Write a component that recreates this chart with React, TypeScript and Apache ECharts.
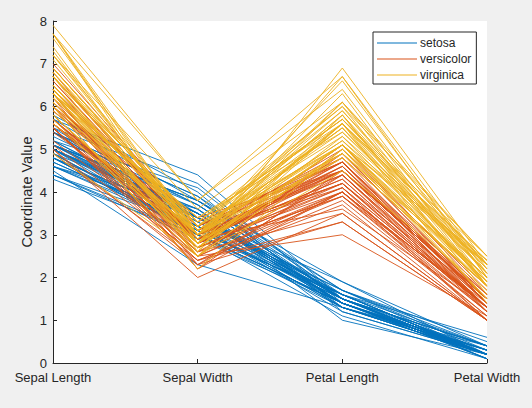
import React, { useEffect, useRef } from "react";
import * as echarts from "echarts";

const coordinates = ["Sepal Length", "Sepal Width", "Petal Length", "Petal Width"];
const speciesNames = ["setosa", "versicolor", "virginica"];
const speciesColors = ["#0072BD", "#D95319", "#EDB120"];
const yTicks = [0, 1, 2, 3, 4, 5, 6, 7, 8];

const setosa: number[][] = [
  [5.1, 3.5, 1.4, 0.2], [4.9, 3.0, 1.4, 0.2], [4.7, 3.2, 1.3, 0.2], [4.6, 3.1, 1.5, 0.2],
  [5.0, 3.6, 1.4, 0.2], [5.4, 3.9, 1.7, 0.4], [4.6, 3.4, 1.4, 0.3], [5.0, 3.4, 1.5, 0.2],
  [4.4, 2.9, 1.4, 0.2], [4.9, 3.1, 1.5, 0.1], [5.4, 3.7, 1.5, 0.2], [4.8, 3.4, 1.6, 0.2],
  [4.8, 3.0, 1.4, 0.1], [4.3, 3.0, 1.1, 0.1], [5.8, 4.0, 1.2, 0.2], [5.7, 4.4, 1.5, 0.4],
  [5.4, 3.9, 1.3, 0.4], [5.1, 3.5, 1.4, 0.3], [5.7, 3.8, 1.7, 0.3], [5.1, 3.8, 1.5, 0.3],
  [5.4, 3.4, 1.7, 0.2], [5.1, 3.7, 1.5, 0.4], [4.6, 3.6, 1.0, 0.2], [5.1, 3.3, 1.7, 0.5],
  [4.8, 3.4, 1.9, 0.2], [5.0, 3.0, 1.6, 0.2], [5.0, 3.4, 1.6, 0.4], [5.2, 3.5, 1.5, 0.2],
  [5.2, 3.4, 1.4, 0.2], [4.7, 3.2, 1.6, 0.2], [4.8, 3.1, 1.6, 0.2], [5.4, 3.4, 1.5, 0.4],
  [5.2, 4.1, 1.5, 0.1], [5.5, 4.2, 1.4, 0.2], [4.9, 3.1, 1.5, 0.2], [5.0, 3.2, 1.2, 0.2],
  [5.5, 3.5, 1.3, 0.2], [4.9, 3.6, 1.4, 0.1], [4.4, 3.0, 1.3, 0.2], [5.1, 3.4, 1.5, 0.2],
  [5.0, 3.5, 1.3, 0.3], [4.5, 2.3, 1.3, 0.3], [4.4, 3.2, 1.3, 0.2], [5.0, 3.5, 1.6, 0.6],
  [5.1, 3.8, 1.9, 0.4], [4.8, 3.0, 1.4, 0.3], [5.1, 3.8, 1.6, 0.2], [4.6, 3.2, 1.4, 0.2],
  [5.3, 3.7, 1.5, 0.2], [5.0, 3.3, 1.4, 0.2],
];

const versicolor: number[][] = [
  [7.0, 3.2, 4.7, 1.4], [6.4, 3.2, 4.5, 1.5], [6.9, 3.1, 4.9, 1.5], [5.5, 2.3, 4.0, 1.3],
  [6.5, 2.8, 4.6, 1.5], [5.7, 2.8, 4.5, 1.3], [6.3, 3.3, 4.7, 1.6], [4.9, 2.4, 3.3, 1.0],
  [6.6, 2.9, 4.6, 1.3], [5.2, 2.7, 3.9, 1.4], [5.0, 2.0, 3.5, 1.0], [5.9, 3.0, 4.2, 1.5],
  [6.0, 2.2, 4.0, 1.0], [6.1, 2.9, 4.7, 1.4], [5.6, 2.9, 3.6, 1.3], [6.7, 3.1, 4.4, 1.4],
  [5.6, 3.0, 4.5, 1.5], [5.8, 2.7, 4.1, 1.0], [6.2, 2.2, 4.5, 1.5], [5.6, 2.5, 3.9, 1.1],
  [5.9, 3.2, 4.8, 1.8], [6.1, 2.8, 4.0, 1.3], [6.3, 2.5, 4.9, 1.5], [6.1, 2.8, 4.7, 1.2],
  [6.4, 2.9, 4.3, 1.3], [6.6, 3.0, 4.4, 1.4], [6.8, 2.8, 4.8, 1.4], [6.7, 3.0, 5.0, 1.7],
  [6.0, 2.9, 4.5, 1.5], [5.7, 2.6, 3.5, 1.0], [5.5, 2.4, 3.8, 1.1], [5.5, 2.4, 3.7, 1.0],
  [5.8, 2.7, 3.9, 1.2], [6.0, 2.7, 5.1, 1.6], [5.4, 3.0, 4.5, 1.5], [6.0, 3.4, 4.5, 1.6],
  [6.7, 3.1, 4.7, 1.5], [6.3, 2.3, 4.4, 1.3], [5.6, 3.0, 4.1, 1.3], [5.5, 2.5, 4.0, 1.3],
  [5.5, 2.6, 4.4, 1.2], [6.1, 3.0, 4.6, 1.4], [5.8, 2.6, 4.0, 1.2], [5.0, 2.3, 3.3, 1.0],
  [5.6, 2.7, 4.2, 1.3], [5.7, 3.0, 4.2, 1.2], [5.7, 2.9, 4.2, 1.3], [6.2, 2.9, 4.3, 1.3],
  [5.1, 2.5, 3.0, 1.1], [5.7, 2.8, 4.1, 1.3],
];

const virginica: number[][] = [
  [6.3, 3.3, 6.0, 2.5], [5.8, 2.7, 5.1, 1.9], [7.1, 3.0, 5.9, 2.1], [6.3, 2.9, 5.6, 1.8],
  [6.5, 3.0, 5.8, 2.2], [7.6, 3.0, 6.6, 2.1], [4.9, 2.5, 4.5, 1.7], [7.3, 2.9, 6.3, 1.8],
  [6.7, 2.5, 5.8, 1.8], [7.2, 3.6, 6.1, 2.5], [6.5, 3.2, 5.1, 2.0], [6.4, 2.7, 5.3, 1.9],
  [6.8, 3.0, 5.5, 2.1], [5.7, 2.5, 5.0, 2.0], [5.8, 2.8, 5.1, 2.4], [6.4, 3.2, 5.3, 2.3],
  [6.5, 3.0, 5.5, 1.8], [7.7, 3.8, 6.7, 2.2], [7.7, 2.6, 6.9, 2.3], [6.0, 2.2, 5.0, 1.5],
  [6.9, 3.2, 5.7, 2.3], [5.6, 2.8, 4.9, 2.0], [7.7, 2.8, 6.7, 2.0], [6.3, 2.7, 4.9, 1.8],
  [6.7, 3.3, 5.7, 2.1], [7.2, 3.2, 6.0, 1.8], [6.2, 2.8, 4.8, 1.8], [6.1, 3.0, 4.9, 1.8],
  [6.4, 2.8, 5.6, 2.1], [7.2, 3.0, 5.8, 1.6], [7.4, 2.8, 6.1, 1.9], [7.9, 3.8, 6.4, 2.0],
  [6.4, 2.8, 5.6, 2.2], [6.3, 2.8, 5.1, 1.5], [6.1, 2.6, 5.6, 1.4], [7.7, 3.0, 6.1, 2.3],
  [6.3, 3.4, 5.6, 2.4], [6.4, 3.1, 5.5, 1.8], [6.0, 3.0, 4.8, 1.8], [6.9, 3.1, 5.4, 2.1],
  [6.7, 3.1, 5.6, 2.4], [6.9, 3.1, 5.1, 2.3], [5.8, 2.7, 5.1, 1.9], [6.8, 3.2, 5.9, 2.3],
  [6.7, 3.3, 5.7, 2.5], [6.7, 3.0, 5.2, 2.3], [6.3, 2.5, 5.0, 1.9], [6.5, 3.0, 5.2, 2.0],
  [6.2, 3.4, 5.4, 2.3], [5.9, 3.0, 5.1, 1.8],
];

const groups = [setosa, versicolor, virginica];

const FONT = "'Liberation Sans', Arial, Helvetica, sans-serif";
const INK = "#262626";

export default function App() {
  const ref = useRef<HTMLDivElement>(null);

  useEffect(() => {
    if (!ref.current) return;
    const chart = echarts.init(ref.current, undefined, { renderer: "svg" });

    const series: any[] = [];
    groups.forEach((rows, gi) => {
      rows.forEach((row) => {
        series.push({
          type: "line",
          name: speciesNames[gi],
          data: row,
          symbol: "none",
          showSymbol: false,
          silent: true,
          lineStyle: { color: speciesColors[gi], width: 0.9 },
          itemStyle: { color: speciesColors[gi] },
          emphasis: { disabled: true },
        });
      });
    });

    chart.setOption({
      animation: false,
      backgroundColor: "#f0f0f0",
      textStyle: { fontFamily: FONT },
      grid: {
        left: 53,
        top: 21,
        width: 434,
        height: 342,
        show: true,
        backgroundColor: "#ffffff",
        borderWidth: 0,
      },
      legend: {
        data: speciesNames.map((n, i) => ({
          name: n,
          icon: "rect",
          itemStyle: { color: speciesColors[i], borderWidth: 0 },
        })),
        orient: "vertical",
        left: 373,
        top: 32,
        backgroundColor: "#ffffff",
        borderColor: INK,
        borderWidth: 1,
        borderRadius: 0,
        padding: [4, 5, 2, 4],
        itemWidth: 40,
        itemHeight: 1.2,
        itemGap: 2,
        textStyle: {
          fontFamily: FONT,
          fontSize: 12,
          color: INK,
          lineHeight: 14,
          padding: [0, 0, 0, -2],
        },
        selectedMode: false,
      },
      xAxis: {
        type: "category",
        data: coordinates,
        boundaryGap: false,
        axisLine: { lineStyle: { color: INK, width: 1 } },
        axisTick: { show: true, inside: true, length: 4, lineStyle: { color: INK } },
        axisLabel: { color: INK, fontSize: 13, fontFamily: FONT, margin: 8 },
        splitLine: { show: false },
      },
      yAxis: {
        type: "value",
        min: yTicks[0],
        max: yTicks[yTicks.length - 1],
        interval: 1,
        name: "Coordinate Value",
        nameLocation: "middle",
        nameGap: 19,
        nameMoveOverlap: false,
        nameTextStyle: { color: INK, fontSize: 14.5, fontFamily: FONT },
        axisLine: { show: true, lineStyle: { color: INK, width: 1 } },
        axisTick: { show: true, inside: true, length: 4, lineStyle: { color: INK } },
        axisLabel: { color: INK, fontSize: 13, fontFamily: FONT, margin: 6 },
        splitLine: { show: false },
      },
      series,
    });

    return () => chart.dispose();
  }, []);

  return (
    <div
      ref={ref}
      style={{ position: "absolute", left: 0, top: 0, width: 532, height: 408 }}
    />
  );
}
